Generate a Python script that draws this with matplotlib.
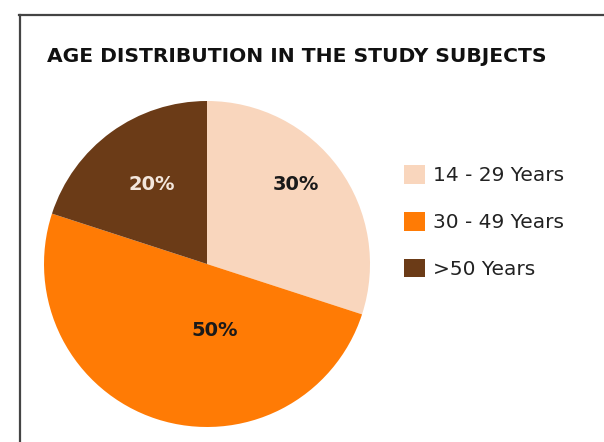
import matplotlib
matplotlib.use("Agg")
import matplotlib.pyplot as plt
from matplotlib.lines import Line2D
from matplotlib.patches import Patch

title = "AGE DISTRIBUTION IN THE STUDY SUBJECTS"
categories = ["14 - 29 Years", "30 - 49 Years", ">50 Years"]
values = [30, 50, 20]
colors = ["#F9D6BD", "#FF7B05", "#6B3B17"]
label_colors = ["#1A1A1A", "#1A1A1A", "#F3E6DC"]
label_pos = [(0.546, 0.485), (0.049, -0.411), (-0.337, 0.485)]

W, H = 604, 442
fig = plt.figure(figsize=(W / 100, H / 100), dpi=100)
fig.patch.set_facecolor("white")

def fx(px):
    return px / W

def fy(py):
    return 1 - py / H

# frame lines (left and top)
fig.add_artist(Line2D([fx(19.5), fx(19.5)], [fy(15), fy(445)], color="#444444", lw=1.6,
                      transform=fig.transFigure))
fig.add_artist(Line2D([fx(19), fx(606)], [fy(15), fy(15)], color="#444444", lw=1.6,
                      transform=fig.transFigure))

fig.text(fx(47), fy(57), title, fontsize=14.6, fontweight="bold", color="#111111",
         ha="left", va="center", family="DejaVu Sans")

ax = fig.add_axes([fx(44), fy(427), fx(326), 326 / H])
wedges, texts, autotexts = ax.pie(values, colors=colors, startangle=90, counterclock=False,
                                  autopct="%d%%", radius=1,
                                  wedgeprops=dict(linewidth=0))
for t, c, p in zip(autotexts, label_colors, label_pos):
    t.set_color(c)
    t.set_fontsize(14)
    t.set_fontweight("bold")
    t.set_position(p)
ax.set_xlim(-1, 1)
ax.set_ylim(-1, 1)
ax.set_aspect("equal")
ax.axis("off")

handles = [Patch(facecolor=c, edgecolor="none") for c in colors]
leg = fig.legend(handles, categories, loc="upper left",
                 bbox_to_anchor=(fx(396), fy(157)), frameon=False,
                 fontsize=14.5, handlelength=1.05, handleheight=1.05,
                 handletextpad=0.4, labelspacing=1.32, borderaxespad=0)
for t in leg.get_texts():
    t.set_color("#222222")

fig.savefig("out.png", dpi=100)
